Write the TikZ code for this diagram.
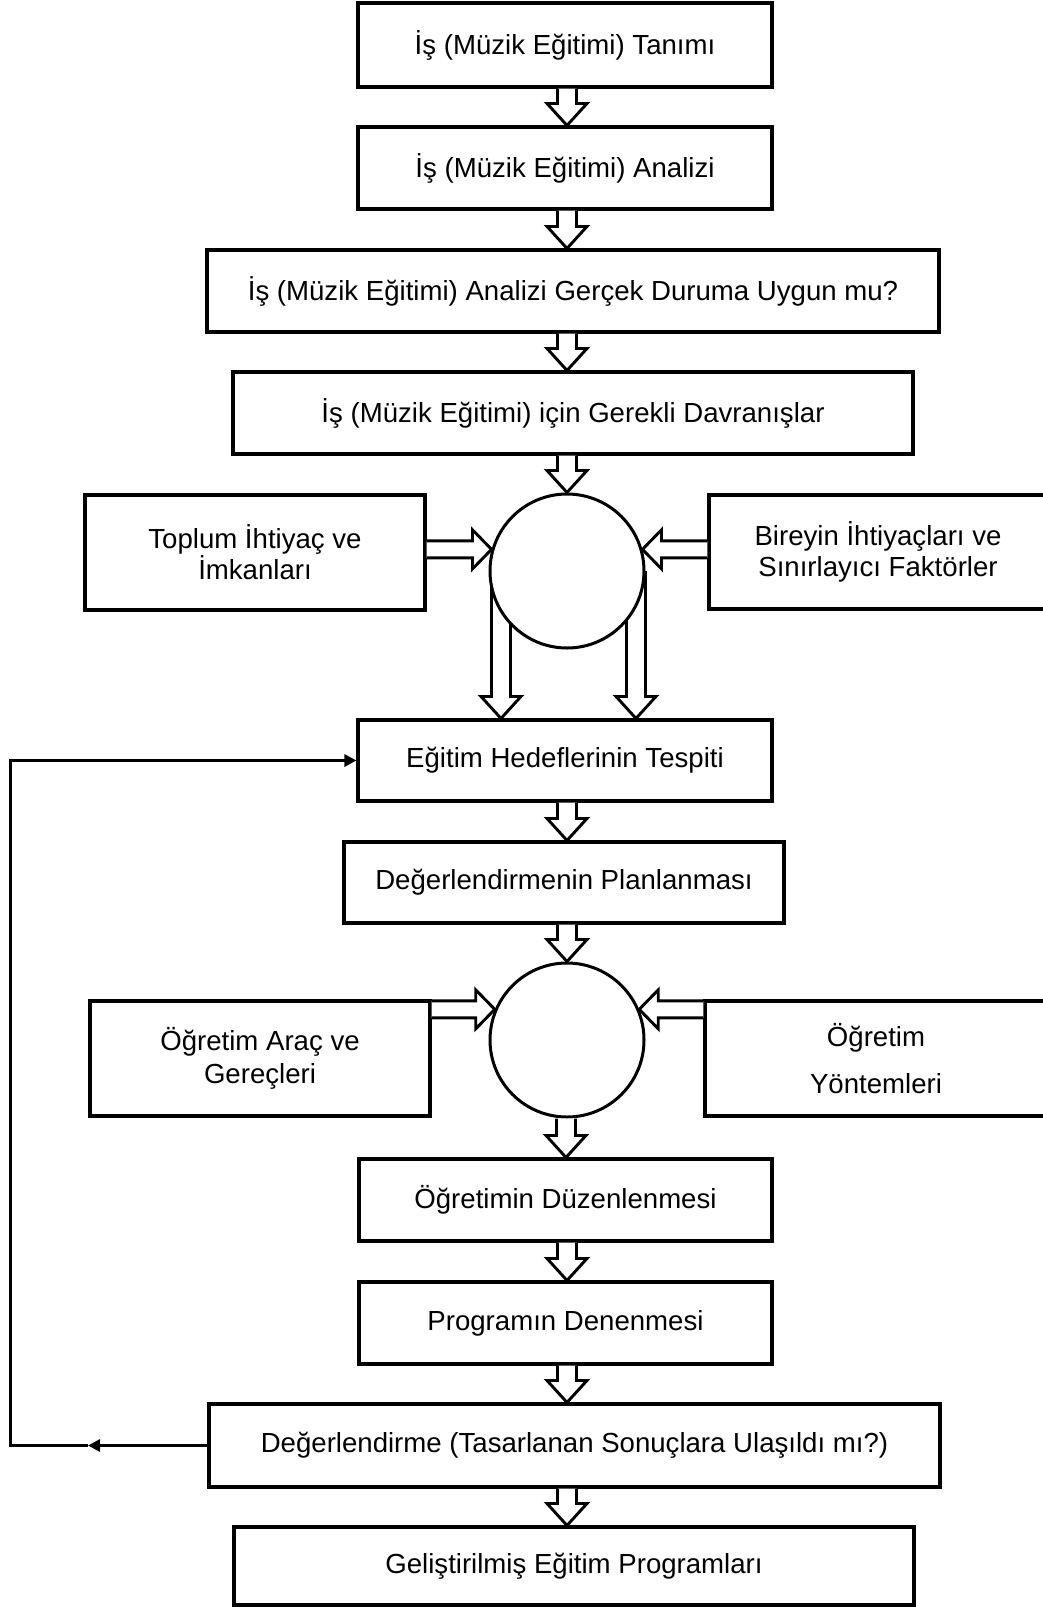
\documentclass[tikz,border=0pt]{standalone}
\usepackage{fontspec}
\setmainfont{Liberation Sans}
\usetikzlibrary{calc,arrows.meta,backgrounds}

% hollow block arrow pointing down: [column x]{from}{to}
\newcommand\blkdown[3][567]{%
  \draw[blk] let \p1=(#2), \p2=(#3) in
    ({#1pt-9.5pt},\y1) -- ({#1pt-9.5pt},\y2+22pt) -- ({#1pt-20pt},\y2+22pt)
    -- (#1pt,\y2) -- ({#1pt+20pt},\y2+22pt) -- ({#1pt+9.5pt},\y2+22pt)
    -- ({#1pt+9.5pt},\y1);}
% hollow block arrow pointing right: {box}{tip on circle}
\newcommand\blkright[2]{%
  \draw[blk] let \p1=(#1), \p2=(#2) in
    (\x1,\y2+8.5pt) -- (\x2-19pt,\y2+8.5pt) -- (\x2-19pt,\y2+19.5pt)
    -- (\x2,\y2) -- (\x2-19pt,\y2-19.5pt) -- (\x2-19pt,\y2-8.5pt) -- (\x1,\y2-8.5pt);}
% hollow block arrow pointing left: {box}{tip on circle}
\newcommand\blkleft[2]{%
  \draw[blk] let \p1=(#1), \p2=(#2) in
    (\x1,\y2+8.5pt) -- (\x2+19pt,\y2+8.5pt) -- (\x2+19pt,\y2+19.5pt)
    -- (\x2,\y2) -- (\x2+19pt,\y2-19.5pt) -- (\x2+19pt,\y2-8.5pt) -- (\x1,\y2-8.5pt);}

\tikzset{
  box/.style={draw, line width=3.1pt, inner sep=0pt, align=center,
    font=\fontsize{27.6}{31}\selectfont},
  hub/.style={draw, circle, line width=3pt, fill=white, minimum size=154pt, inner sep=0pt},
  blk/.style={draw, line width=2.9pt, line join=miter, fill=white},
  fb/.style={line width=3pt, -{Triangle[length=12pt,width=12pt]}},
}

\begin{document}
\begin{tikzpicture}[x=1pt,y=-1pt]
\useasboundingbox (0,0) rectangle (1043,1607);

% main column
\node[box, minimum width=414pt, minimum height=84pt] (b1) at (565,45)
  {İş (Müzik Eğitimi) Tanımı};
\node[box, minimum width=414pt, minimum height=82pt] (b2) at (565,168)
  {İş (Müzik Eğitimi) Analizi};
\node[box, minimum width=732pt, minimum height=82pt] (b3) at (573,291)
  {İş (Müzik Eğitimi) Analizi Gerçek Duruma Uygun mu?};
\node[box, minimum width=680pt, minimum height=82pt] (b4) at (573,413)
  {İş (Müzik Eğitimi) için Gerekli Davranışlar};

% first junction
\node[hub] (c1) at (567,571) {};
\node[box, minimum width=340pt, minimum height=115pt] (l1) at (255,552.5)
  {Toplum İhtiyaç ve\\İmkanları};
\node[box, minimum width=338pt, minimum height=114pt] (r1) at (878,552)
  {Bireyin İhtiyaçları ve\\Sınırlayıcı Faktörler};

\node[box, minimum width=414pt, minimum height=81pt] (b5) at (565,760.5)
  {Eğitim Hedeflerinin Tespiti};
\node[box, minimum width=440pt, minimum height=81pt] (b6) at (564,882.5)
  {Değerlendirmenin Planlanması};

% second junction
\node[hub] (c2) at (567,1040) {};
\node[box, minimum width=340pt, minimum height=115pt] (l2) at (260,1058.5)
  {Öğretim Araç ve\\[2pt]Gereçleri};
\node[box, minimum width=342pt, minimum height=115pt] (r2) at (876,1058.5)
  {Öğretim\\[16pt]Yöntemleri};

\node[box, minimum width=413pt, minimum height=82pt] (b7) at (565.5,1200)
  {Öğretimin Düzenlenmesi};
\node[box, minimum width=413pt, minimum height=82pt] (b8) at (565.5,1323)
  {Programın Denenmesi};
\node[box, minimum width=731pt, minimum height=83pt] (b9) at (574.5,1445.5)
  {Değerlendirme (Tasarlanan Sonuçlara Ulaşıldı mı?)};
\node[box, minimum width=680pt, minimum height=78pt] (b10) at (574,1566)
  {Geliştirilmiş Eğitim Programları};

% hollow arrows along the column
\blkdown{b1.south}{b2.north}
\blkdown{b2.south}{b3.north}
\blkdown{b3.south}{b4.north}
\blkdown{b4.south}{c1.north}
\blkright{l1.east}{c1.164}
\blkleft{r1.west}{c1.16}
\begin{scope}[on background layer]
  \blkdown[501]{c1.center}{b5.north}
  \blkdown[636]{c1.center}{b5.north}
\end{scope}
\blkdown{b5.south}{b6.north}
\blkdown{b6.south}{c2.north}
\blkright{l2.east}{c2.157}
\blkleft{r2.west}{c2.23}
\blkdown[566]{c2.south}{b7.north}
\blkdown{b7.south}{b8.north}
\blkdown{b8.south}{b9.north}
\blkdown{b9.south}{b10.north}

% feedback loop
\coordinate (fbmid) at (88,1445.5);
\coordinate (fbcorner) at (10,1445.5);
\draw[fb] (b9.west) -- (fbmid);
\draw[fb] (fbmid) -- (fbcorner) |- (b5.west);
\end{tikzpicture}
\end{document}
